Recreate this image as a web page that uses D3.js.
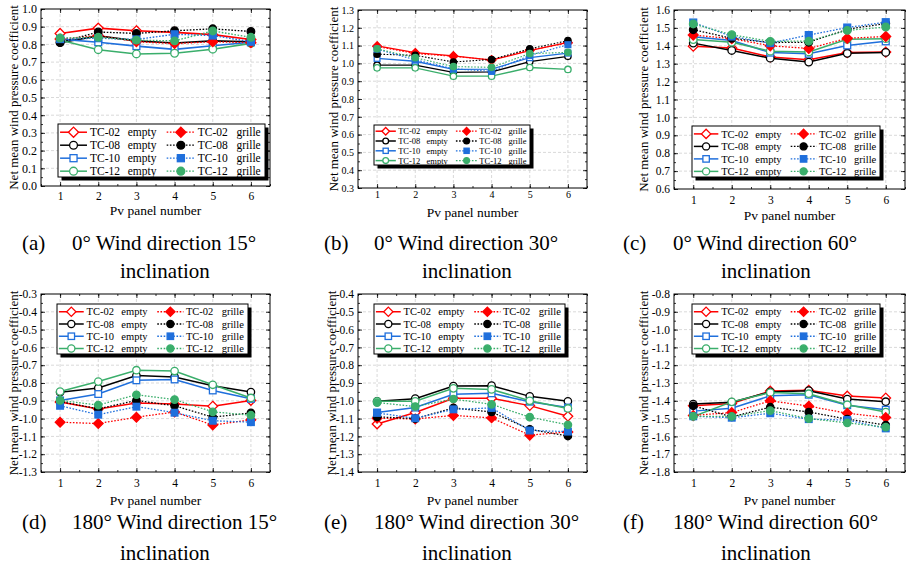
<!DOCTYPE html>
<html>
<head>
<meta charset="utf-8">
<script src="https://cdn.jsdelivr.net/npm/d3@7"></script>
<style>
  body { margin: 0; background: #fff; }
</style>
</head>
<body>
<script>
'use strict';

// ---- data ----
const panelNumbers = [1, 2, 3, 4, 5, 6];
const seriesNames = ["TC-02", "TC-08", "TC-10", "TC-12"];
const conditionNames = ["empty", "grille"];
const captionLetters = ["(a)", "(b)", "(c)", "(d)", "(e)", "(f)"];
const captionTexts = ["0° Wind direction 15°", "0° Wind direction 30°", "0° Wind direction 60°",
  "180° Wind direction 15°", "180° Wind direction 30°", "180° Wind direction 60°"];
const yDomains = [[0, 1.0], [0.3, 1.3], [0.6, 1.6], [-1.3, -0.3], [-1.4, -0.4], [-1.8, -0.8]];

// rows: TC-02, TC-08, TC-10, TC-12
const aEmpty = [
  [0.862, 0.892, 0.877, 0.868, 0.855, 0.828],
  [0.810, 0.848, 0.820, 0.808, 0.820, 0.815],
  [0.830, 0.812, 0.790, 0.772, 0.792, 0.812],
  [0.825, 0.770, 0.746, 0.750, 0.773, 0.806]];
const aGrille = [
  [0.830, 0.850, 0.815, 0.805, 0.815, 0.810],
  [0.812, 0.870, 0.862, 0.877, 0.888, 0.873],
  [0.830, 0.835, 0.828, 0.857, 0.850, 0.815],
  [0.836, 0.840, 0.824, 0.820, 0.876, 0.840]];
const bEmpty = [
  [1.098, 1.060, 1.042, 1.018, 1.072, 1.118],
  [0.990, 0.990, 0.950, 0.952, 1.010, 1.040],
  [1.028, 1.012, 0.966, 0.968, 1.032, 1.058],
  [0.975, 0.975, 0.928, 0.928, 0.977, 0.966]];
const bGrille = [
  [1.095, 1.055, 1.040, 1.020, 1.075, 1.115],
  [1.052, 1.045, 1.008, 1.022, 1.082, 1.128],
  [1.080, 1.020, 0.970, 0.955, 1.045, 1.105],
  [1.082, 1.032, 0.982, 0.978, 1.055, 1.062]];
const cEmpty = [
  [1.398, 1.388, 1.338, 1.322, 1.362, 1.365],
  [1.415, 1.374, 1.331, 1.309, 1.358, 1.363],
  [1.450, 1.430, 1.362, 1.356, 1.402, 1.425],
  [1.435, 1.420, 1.370, 1.366, 1.436, 1.440]];
const cGrille = [
  [1.460, 1.440, 1.400, 1.385, 1.442, 1.452],
  [1.490, 1.442, 1.418, 1.420, 1.492, 1.525],
  [1.530, 1.452, 1.415, 1.460, 1.502, 1.532],
  [1.522, 1.462, 1.425, 1.426, 1.486, 1.505]];
const dEmpty = [
  [-0.907, -0.946, -0.912, -0.918, -0.930, -0.898],
  [-0.852, -0.828, -0.758, -0.766, -0.816, -0.851],
  [-0.898, -0.862, -0.785, -0.780, -0.842, -0.889],
  [-0.848, -0.792, -0.728, -0.733, -0.810, -0.884]];
const dGrille = [
  [-1.020, -1.028, -0.992, -0.963, -1.036, -1.007],
  [-0.904, -0.945, -0.898, -0.928, -0.992, -0.968],
  [-0.928, -0.978, -0.933, -0.967, -1.012, -1.020],
  [-0.898, -0.924, -0.866, -0.893, -0.962, -0.981]];
const eEmpty = [
  [-1.130, -1.066, -0.986, -0.986, -1.027, -1.087],
  [-1.003, -0.988, -0.917, -0.915, -0.975, -1.003],
  [-1.066, -1.038, -0.963, -0.958, -1.005, -1.038],
  [-1.003, -1.003, -0.930, -0.936, -1.000, -1.043]];
const eGrille = [
  [-1.098, -1.102, -1.082, -1.096, -1.193, -1.175],
  [-1.090, -1.100, -1.040, -1.063, -1.160, -1.198],
  [-1.068, -1.098, -1.048, -1.040, -1.167, -1.173],
  [-1.010, -1.032, -0.990, -1.020, -1.092, -1.135]];
const fEmpty = [
  [-1.428, -1.415, -1.345, -1.341, -1.373, -1.384],
  [-1.418, -1.408, -1.350, -1.343, -1.390, -1.405],
  [-1.458, -1.442, -1.372, -1.366, -1.425, -1.450],
  [-1.488, -1.406, -1.354, -1.360, -1.422, -1.463]];
const fGrille = [
  [-1.482, -1.466, -1.400, -1.430, -1.470, -1.494],
  [-1.428, -1.490, -1.436, -1.463, -1.503, -1.536],
  [-1.487, -1.495, -1.470, -1.503, -1.508, -1.555],
  [-1.487, -1.488, -1.455, -1.500, -1.524, -1.548]];

const emptyData = [aEmpty, bEmpty, cEmpty, dEmpty, eEmpty, fEmpty];
const grilleData = [aGrille, bGrille, cGrille, dGrille, eGrille, fGrille];

// ---- styles / layout ----
const colors = ["#ff0000", "#000000", "#1f6fdc", "#3aae6b"];
const shapes = ["diamond", "circle", "square", "circle"];
const fontFam = '"Liberation Serif", "Times New Roman", Tinos, serif';

const layout = [
  { left: 41, right: 270, top: 9, bottom: 186, fs: 12, xfs: 11.5, xTickY: 196.5, ylabX: 13, xlabY: 210, r: 3.8, lw: 1.6,
    leg: { x: 58, y: 124, w: 207, h: 53, fs: 11.5 }, capX: 0, capY: 250, incY: 278 },
  { left: 358, right: 587, top: 10, bottom: 188, fs: 10, xfs: 10, xTickY: 195, ylabX: 333, xlabY: 212, r: 3.2, lw: 1.3,
    leg: { x: 374, y: 125, w: 156, h: 40, fs: 8.5 }, capX: 302, capY: 250, incY: 278 },
  { left: 674, right: 905, top: 10, bottom: 189, fs: 11.5, xfs: 11.5, xTickY: 200, ylabX: 643, xlabY: 215, r: 3.8, lw: 1.5,
    leg: { x: 692, y: 126, w: 188, h: 51, fs: 10.5 }, capX: 601, capY: 250, incY: 278 },
  { left: 41, right: 270, top: 294, bottom: 472, fs: 11.5, xfs: 11.5, xTickY: 483, ylabX: 13, xlabY: 500, r: 3.7, lw: 1.5,
    leg: { x: 57, y: 304, w: 191, h: 50, fs: 10.5 }, capX: 0, capY: 529, incY: 560 },
  { left: 358, right: 587, top: 294, bottom: 472, fs: 11.5, xfs: 11.5, xTickY: 483, ylabX: 331, xlabY: 500, r: 3.7, lw: 1.5,
    leg: { x: 374, y: 304, w: 191, h: 50, fs: 10.5 }, capX: 302, capY: 529, incY: 560 },
  { left: 674, right: 905, top: 294, bottom: 472, fs: 11.5, xfs: 11.5, xTickY: 483, ylabX: 643, xlabY: 500, r: 3.7, lw: 1.5,
    leg: { x: 692, y: 304, w: 188, h: 50, fs: 10.5 }, capX: 601, capY: 529, incY: 560 }
];

const svg = d3.select('body').append('svg')
  .attr('width', 907)
  .attr('height', 569)
  .style('font-family', fontFam);

svg.append('rect').attr('width', 907).attr('height', 569).attr('fill', '#fff');

// draw one marker
function drawMarker(g, shape, cx, cy, r, color, filled) {
  let fill = filled ? color : '#fff';
  if (shape === 'circle') {
    g.append('circle').attr('cx', cx).attr('cy', cy).attr('r', r)
      .attr('fill', fill).attr('stroke', color).attr('stroke-width', 1.3);
  } else if (shape === 'square') {
    let s = r * 0.9;
    g.append('rect').attr('x', cx - s).attr('y', cy - s).attr('width', 2 * s).attr('height', 2 * s)
      .attr('fill', fill).attr('stroke', color).attr('stroke-width', 1.3);
  } else {
    let s = r * 1.3;
    g.append('path')
      .attr('d', `M${cx},${cy - s}L${cx + s},${cy}L${cx},${cy + s}L${cx - s},${cy}Z`)
      .attr('fill', fill).attr('stroke', color).attr('stroke-width', 1.3);
  }
}

layout.forEach((p, k) => {
  let g = svg.append('g');

  let x = d3.scaleLinear().domain([0.5, 6.5]).range([p.left, p.right]);
  let y = d3.scaleLinear().domain(yDomains[k]).range([p.bottom, p.top]);
  let yTicks = y.ticks(10);
  let yMinor = y.ticks(20);
  let xMinor = d3.range(0.5, 6.51, 0.5);

  // grid
  g.append('g').selectAll('line').data(yTicks.slice(1, -1)).enter().append('line')
    .attr('x1', p.left).attr('x2', p.right)
    .attr('y1', d => y(d)).attr('y2', d => y(d))
    .attr('stroke', '#cfcfcf').attr('stroke-width', 0.8).attr('stroke-dasharray', '3,2');
  g.append('g').selectAll('line').data(panelNumbers).enter().append('line')
    .attr('y1', p.top).attr('y2', p.bottom)
    .attr('x1', d => x(d)).attr('x2', d => x(d))
    .attr('stroke', '#cfcfcf').attr('stroke-width', 0.8).attr('stroke-dasharray', '3,2');

  // axes (ticks inward)
  let yAxis = d3.axisLeft(y).tickValues(yTicks).tickSize(-4).tickPadding(4)
    .tickFormat(d => d.toFixed(1));
  g.append('g').attr('class', 'yax').attr('transform', `translate(${p.left},0)`).call(yAxis);
  g.append('g').attr('transform', `translate(${p.left},0)`)
    .call(d3.axisLeft(y).tickValues(yMinor).tickSize(-2).tickFormat(''));
  g.append('g').attr('transform', `translate(${p.right},0)`)
    .call(d3.axisRight(y).tickValues(yTicks).tickSize(-4).tickFormat(''));
  g.append('g').attr('transform', `translate(${p.right},0)`)
    .call(d3.axisRight(y).tickValues(yMinor).tickSize(-2).tickFormat(''));

  let padX = p.xTickY - p.bottom - 0.38 * p.xfs;
  g.append('g').attr('class', 'xax').attr('transform', `translate(0,${p.bottom})`)
    .call(d3.axisBottom(x).tickValues(panelNumbers).tickSize(-4).tickPadding(padX).tickFormat(d3.format('d')));
  g.append('g').attr('transform', `translate(0,${p.bottom})`)
    .call(d3.axisBottom(x).tickValues(xMinor).tickSize(-2).tickFormat(''));
  g.append('g').attr('transform', `translate(0,${p.top})`)
    .call(d3.axisTop(x).tickValues(panelNumbers).tickSize(-4).tickFormat(''));
  g.append('g').attr('transform', `translate(0,${p.top})`)
    .call(d3.axisTop(x).tickValues(xMinor).tickSize(-2).tickFormat(''));

  g.selectAll('.domain').remove();
  g.selectAll('.tick line').attr('stroke', '#000').attr('stroke-width', 0.8);
  g.selectAll('.yax .tick text').attr('fill', '#000').style('font-size', p.fs + 'px').style('font-family', fontFam);
  g.selectAll('.xax .tick text').attr('fill', '#000').style('font-size', p.xfs + 'px').style('font-family', fontFam);

  g.append('rect')
    .attr('x', p.left).attr('y', p.top)
    .attr('width', p.right - p.left).attr('height', p.bottom - p.top)
    .attr('fill', 'none').attr('stroke', '#000').attr('stroke-width', 1);

  // axis labels
  g.append('text')
    .attr('transform', `translate(${p.ylabX},${(p.top + p.bottom) / 2})rotate(-90)`)
    .attr('text-anchor', 'middle').attr('dy', '0.35em')
    .style('font-size', '13px')
    .text('Net mean wind pressure coefficient');
  g.append('text')
    .attr('x', (p.left + p.right) / 2).attr('y', p.xlabY)
    .attr('text-anchor', 'middle').attr('dy', '0.35em')
    .style('font-size', '13.5px')
    .text('Pv panel number');

  // series
  let line = d3.line().x((d, i) => x(panelNumbers[i])).y(d => y(d));
  [emptyData[k], grilleData[k]].forEach((set, c) => {
    set.forEach((vals, s) => {
      g.append('path')
        .attr('d', line(vals))
        .attr('fill', 'none')
        .attr('stroke', colors[s])
        .attr('stroke-width', c === 0 ? p.lw : p.lw * 0.85)
        .attr('stroke-dasharray', c === 0 ? null : '1.6,1.6');
      let mg = g.append('g');
      vals.forEach((v, i) => {
        drawMarker(mg, shapes[s], x(panelNumbers[i]), y(v), p.r, colors[s], c === 1);
      });
    });
  });

  // legend with drop shadow
  let L = p.leg;
  let lg = g.append('g');
  lg.append('rect').attr('x', L.x + 3.5).attr('y', L.y + 3.5).attr('width', L.w).attr('height', L.h).attr('fill', '#000');
  lg.append('rect').attr('x', L.x).attr('y', L.y).attr('width', L.w).attr('height', L.h)
    .attr('fill', '#fff').attr('stroke', '#000').attr('stroke-width', 1);
  let lr = L.fs * 0.34;
  seriesNames.forEach((name, s) => {
    let cy = L.y + L.h * (0.155 + 0.245 * s);
    conditionNames.forEach((cond, c) => {
      let x0 = L.x + L.w * (c === 0 ? 0.01 : 0.525);
      let x1 = L.x + L.w * (c === 0 ? 0.14 : 0.662);
      lg.append('line').attr('x1', x0).attr('x2', x1).attr('y1', cy).attr('y2', cy)
        .attr('stroke', colors[s]).attr('stroke-width', c === 0 ? 1.5 : 1.3)
        .attr('stroke-dasharray', c === 0 ? null : '1.6,1.6');
      drawMarker(lg, shapes[s], (x0 + x1) / 2, cy, lr, colors[s], c === 1);
      lg.append('text').attr('x', L.x + L.w * (c === 0 ? 0.155 : 0.675)).attr('y', cy)
        .attr('dy', '0.35em').style('font-size', L.fs + 'px').text(name);
      lg.append('text').attr('x', L.x + L.w * (c === 0 ? 0.337 : 0.862)).attr('y', cy)
        .attr('dy', '0.35em').style('font-size', L.fs + 'px').text(cond);
    });
  });

  // caption
  svg.append('text').attr('x', p.capX + 22).attr('y', p.capY)
    .style('font-size', '21px').text(captionLetters[k]);
  svg.append('text').attr('x', p.capX + 72).attr('y', p.capY)
    .style('font-size', '21px').text(captionTexts[k]);
  svg.append('text').attr('x', p.capX + 120).attr('y', p.incY)
    .style('font-size', '21px').text('inclination');
});
</script>
</body>
</html>
